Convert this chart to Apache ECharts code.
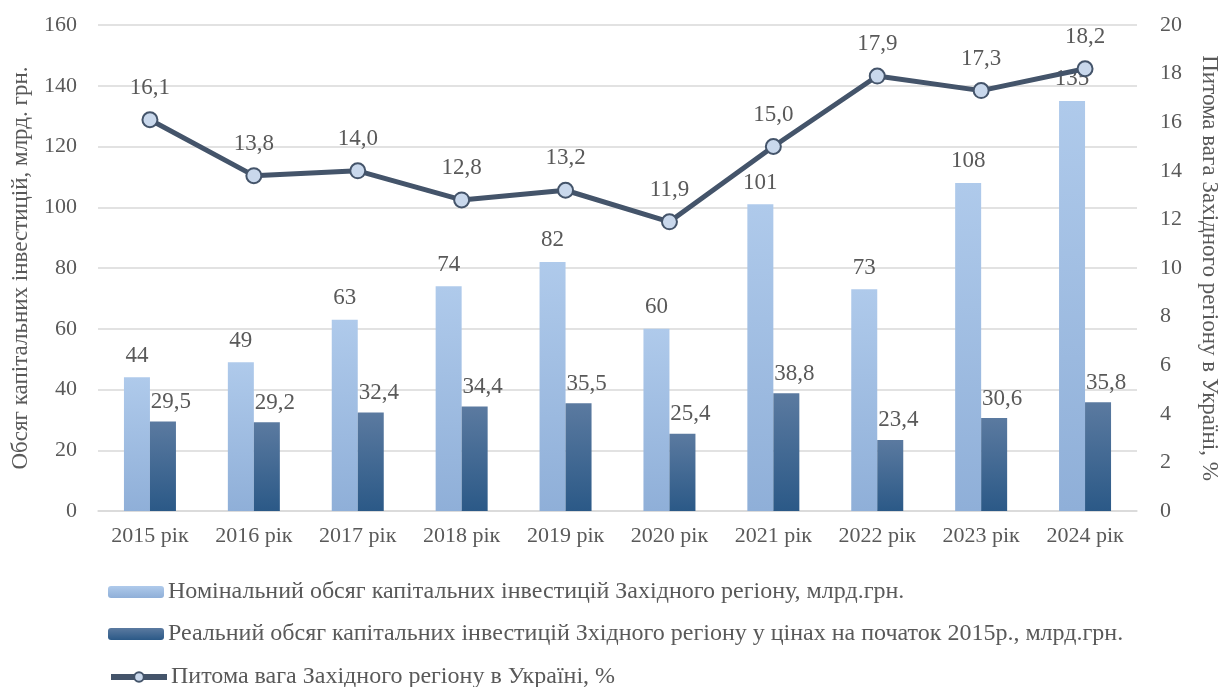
<!DOCTYPE html>
<html><head><meta charset="utf-8">
<script src="https://cdn.jsdelivr.net/npm/echarts@6/dist/echarts.min.js"></script>
<style>html,body{margin:0;padding:0;background:#fff;overflow:hidden}#c{width:100vw;height:100vh}</style>
</head><body><div id="c"></div>
<script>
var categories = ['2015 рік','2016 рік','2017 рік','2018 рік','2019 рік','2020 рік','2021 рік','2022 рік','2023 рік','2024 рік'];
var nominal = [44,49,63,74,82,60,101,73,108,135];
var real = [29.5,29.2,32.4,34.4,35.5,25.4,38.8,23.4,30.6,35.8];
var share = [16.1,13.8,14.0,12.8,13.2,11.9,15.0,17.9,17.3,18.2];
var leftTicks = [0,20,40,60,80,100,120,140,160];
var rightTicks = [0,2,4,6,8,10,12,14,16,18,20];
var names = ['Номінальний обсяг капітальних інвестицій Західного регіону, млрд.грн.',
  'Реальний обсяг капітальних інвестицій Зхідного регіону у цінах на початок 2015р., млрд.грн.',
  'Питома вага Західного регіону в Україні, %'];

var font = '"Liberation Serif", "Times New Roman", serif';
var txt = '#595959';
function fmt(v){ return String(v).replace('.', ','); }
function fmt1(v){ return v.toFixed(1).replace('.', ','); }
var legendTops = [580, 622, 665];
function mkLegend(i, extra){
  return {
    orient:'horizontal',left:108,top:legendTops[i],itemWidth:56,itemHeight:12,padding:0,
    textStyle:{fontFamily:font,fontSize:24,color:txt,padding:[0,0,0,-1]},
    data:[Object.assign({name:names[i]}, extra||{})]
  };
}

var chart = echarts.init(document.getElementById('c'));
chart.setOption({
  animation:false,
  textStyle:{fontFamily:font,color:txt},
  grid:{left:98,right:82,top:25,bottom:176},
  legend:[mkLegend(0),mkLegend(1),mkLegend(2,{itemStyle:{borderWidth:2},lineStyle:{width:6}})],
  xAxis:{
    type:'category',data:categories,
    axisLine:{lineStyle:{color:'#d9d9d9',width:1.5}},
    axisTick:{show:false},
    axisLabel:{fontFamily:font,fontSize:22,color:txt,margin:14}
  },
  yAxis:[{
    type:'value',min:leftTicks[0],max:leftTicks[leftTicks.length-1],interval:20,
    name:'Обсяг капітальних інвестицій, млрд. грн.',nameLocation:'middle',nameGap:66,
    nameTextStyle:{fontFamily:font,fontSize:23,color:txt},
    axisLine:{show:false},axisTick:{show:false},
    axisLabel:{fontFamily:font,fontSize:22,color:txt,margin:21},
    splitLine:{lineStyle:{color:'#d9d9d9',width:1.5}}
  },{
    type:'value',min:rightTicks[0],max:rightTicks[rightTicks.length-1],interval:2,
    name:'Питома вага Західного регіону в Україні, %',nameLocation:'middle',nameGap:61,nameRotate:-90,
    nameTextStyle:{fontFamily:font,fontSize:23,color:txt},
    axisLine:{show:false},axisTick:{show:false},
    axisLabel:{fontFamily:font,fontSize:22,color:txt,margin:23},
    splitLine:{show:false}
  }],
  series:[{
    name:names[0],type:'bar',data:nominal,barWidth:26,barGap:'0%',
    itemStyle:{color:new echarts.graphic.LinearGradient(0,0,0,1,[{offset:0,color:'#afcaeb'},{offset:1,color:'#8fafd8'}])},
    label:{show:true,position:'top',distance:10,fontFamily:font,fontSize:23,color:txt,formatter:function(p){return fmt(p.value);}}
  },{
    name:names[1],type:'bar',data:real,barWidth:26,
    itemStyle:{color:new echarts.graphic.LinearGradient(0,0,0,1,[{offset:0,color:'#5b7aa0'},{offset:1,color:'#2b5987'}])},
    label:{show:true,position:'top',distance:8,offset:[8,0],fontFamily:font,fontSize:23,color:txt,formatter:function(p){return fmt1(p.value);}}
  },{
    name:names[2],type:'line',yAxisIndex:1,data:share,
    symbol:'circle',symbolSize:15,z:5,
    lineStyle:{color:'#44546a',width:5},
    itemStyle:{color:'#c9d8ec',borderColor:'#44546a',borderWidth:2},
    label:{show:true,position:'top',distance:12,fontFamily:font,fontSize:23,color:txt,formatter:function(p){return fmt1(p.value);}}
  }]
});
</script></body></html>
